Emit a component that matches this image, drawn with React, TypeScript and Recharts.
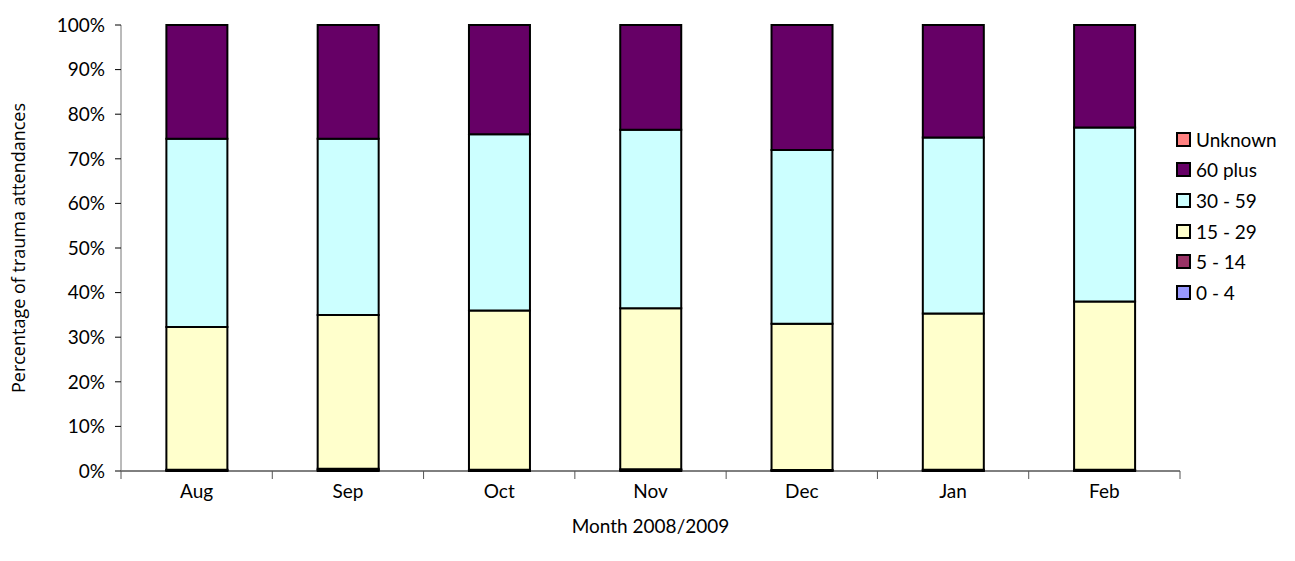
import React from 'react';
import { BarChart, Bar, XAxis, YAxis, Legend } from 'recharts';

const months = ['Aug', 'Sep', 'Oct', 'Nov', 'Dec', 'Jan', 'Feb'];

// percentages per age group, bottom to top
const age0to4 = [0.1, 0.2, 0.1, 0.2, 0.1, 0.1, 0.1];
const age5to14 = [0.2, 0.3, 0.2, 0.2, 0.1, 0.2, 0.2];
const age15to29 = [32.0, 34.5, 35.7, 36.1, 32.8, 35.0, 37.7];
const age30to59 = [42.2, 39.5, 39.5, 40.0, 39.0, 39.5, 39.0];
const age60plus = [25.5, 25.5, 24.5, 23.5, 28.0, 25.2, 23.0];
const unknown = [0, 0, 0, 0, 0, 0, 0];

const yTicks = [0, 10, 20, 30, 40, 50, 60, 70, 80, 90, 100];

const SERIES = [
    { key: 'a0', name: '0 - 4', color: '#9999ff' },
    { key: 'a5', name: '5 - 14', color: '#993366' },
    { key: 'a15', name: '15 - 29', color: '#ffffcc' },
    { key: 'a30', name: '30 - 59', color: '#ccffff' },
    { key: 'a60', name: '60 plus', color: '#660066' },
    { key: 'unk', name: 'Unknown', color: '#ff8080' },
];

const data = months.map((m, i) => ({
    month: m,
    a0: age0to4[i],
    a5: age5to14[i],
    a15: age15to29[i],
    a30: age30to59[i],
    a60: age60plus[i],
    unk: unknown[i],
}));

const FONT = 'Lato, sans-serif';
const PLOT_WIDTH = 1059;
const BAND = PLOT_WIDTH / months.length;

const MonthTick = (props: any) => {
    const { x, y, payload, index } = props;
    return (
        <g>
            <line x1={x - BAND / 2} y1={y - 8} x2={x - BAND / 2} y2={y} stroke="#555" strokeWidth={1} />
            {index === months.length - 1 && (
                <line x1={x + BAND / 2} y1={y - 8} x2={x + BAND / 2} y2={y} stroke="#555" strokeWidth={1} />
            )}
            <text x={x} y={y + 19} textAnchor="middle" fill="#000" fontSize={19} fontFamily={FONT}>
                {payload.value}
            </text>
        </g>
    );
};

const renderLegend = () => (
    <div style={{ fontFamily: FONT, fontSize: 19, color: '#000' }}>
        {[...SERIES].reverse().map((s) => (
            <div key={s.key} style={{ display: 'flex', alignItems: 'center', height: 30.6 }}>
                <span
                    style={{
                        display: 'inline-block',
                        width: 11,
                        height: 11,
                        background: s.color,
                        border: '2px solid #000',
                        marginRight: 5,
                    }}
                />
                {s.name}
            </div>
        ))}
    </div>
);

export default function App() {
    return (
        <BarChart
            width={1280}
            height={545}
            data={data}
            margin={{ top: 17, right: 0, left: 0, bottom: 20 }}
            barCategoryGap="30%"
        >
            <XAxis
                dataKey="month"
                axisLine={{ stroke: '#000' }}
                tickLine={false}
                tick={<MonthTick />}
                height={62}
                interval={0}
                label={{
                    value: 'Month 2008/2009',
                    position: 'insideBottom',
                    offset: 0,
                    fill: '#000',
                    fontSize: 19,
                    fontFamily: FONT,
                }}
            />
            <YAxis
                domain={[0, 100]}
                ticks={yTicks}
                interval={0}
                width={113}
                tickFormatter={(v) => `${v}%`}
                axisLine={{ stroke: '#777' }}
                tickLine={{ stroke: '#000' }}
                tickSize={6}
                tickMargin={10}
                tick={{ fill: '#000', fontSize: 19, fontFamily: FONT }}
                label={{
                    value: 'Percentage of trauma attendances',
                    angle: -90,
                    position: 'insideLeft',
                    offset: 11,
                    style: { textAnchor: 'middle' },
                    fill: '#000',
                    fontSize: 18,
                    fontFamily: '"Open Sans", sans-serif',
                }}
            />
            <Legend
                layout="vertical"
                align="right"
                verticalAlign="middle"
                content={renderLegend}
                wrapperStyle={{ position: 'absolute', left: 1168, top: 116, width: 108 }}
            />
            {SERIES.map((s) => (
                <Bar
                    key={s.key}
                    dataKey={s.key}
                    name={s.name}
                    stackId="a"
                    fill={s.color}
                    stroke="#000"
                    strokeWidth={2}
                    isAnimationActive={false}
                />
            ))}
        </BarChart>
    );
}
